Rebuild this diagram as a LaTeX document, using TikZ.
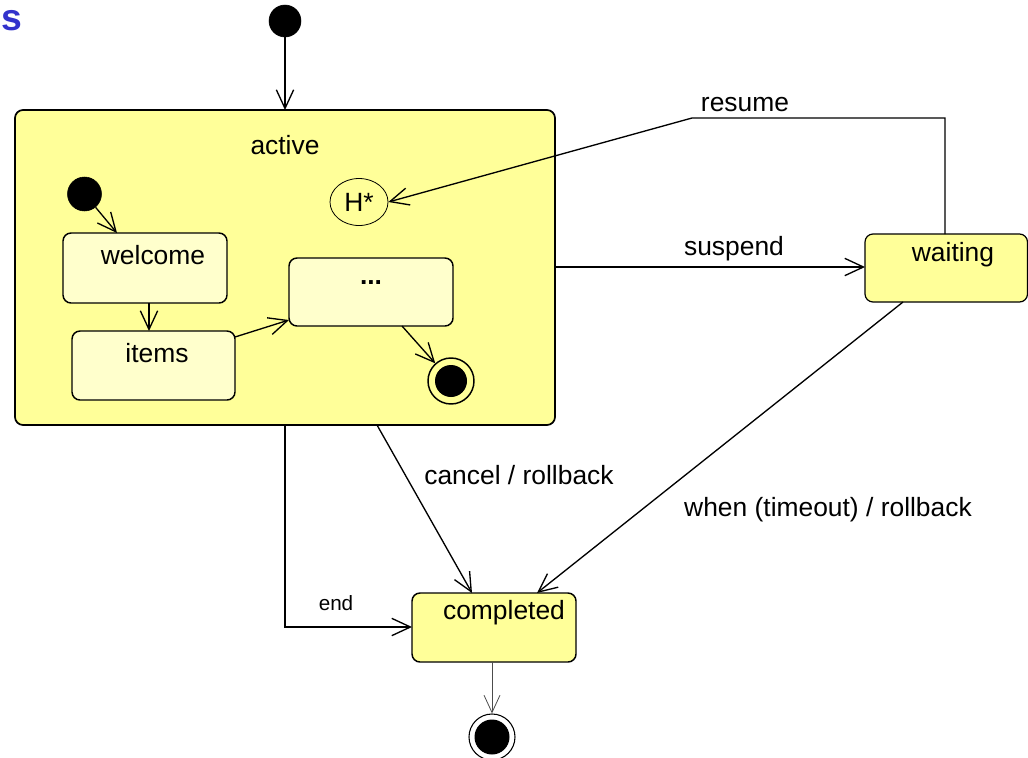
\documentclass[tikz,border=0pt]{standalone}
\usepackage{fontspec}
\setmainfont{Liberation Sans}
\usetikzlibrary{arrows.meta,shapes.geometric}
\definecolor{outerY}{RGB}{255,255,153}
\definecolor{innerY}{RGB}{255,255,204}
\definecolor{titleblue}{RGB}{51,51,204}
\begin{document}
\begin{tikzpicture}[x=0.75pt,y=-0.75pt,
  txt/.style={font=\fontsize{19.8}{23}\selectfont, inner sep=0pt},
  smalltxt/.style={font=\fontsize{15.5}{18}\selectfont, inner sep=0pt},
  outerstate/.style={draw, line width=1.3pt, fill=outerY, rounded corners=6pt},
  innerstate/.style={draw, line width=1.1pt, fill=innerY, rounded corners=6pt},
  startdot/.style={circle, fill=black, draw=black, inner sep=0pt},
  trans/.style={draw, line width=1pt, -{Straight Barb[length=14pt,width=13pt,line width=1pt]}},
  thintrans/.style={draw=black!70, line width=0.6pt, -{Straight Barb[length=13pt,width=12pt,line width=0.6pt]}}
]
\useasboundingbox (0,0) rectangle (1028,757);

% title fragment
\node[anchor=base west, inner sep=0pt, text=titleblue, font=\fontsize{28}{30}\bfseries\selectfont] (title) at (1,30) {s};

% top initial state
\node[startdot, minimum size=32*0.75pt] (init) at (285,21) {};

% active composite state
\path[outerstate] (15,110) rectangle (555,425);
\coordinate (activeTop) at (285,110);
\coordinate (activeRight) at (555,267);
\coordinate (activeBotL) at (285,425);
\coordinate (activeBotM) at (377,425);
\node[txt] (activeLbl) at (285,145) {active};

% inner initial
\node[startdot, minimum size=34*0.75pt] (init2) at (84.5,194) {};

% inner states
\path[innerstate] (63,233) rectangle (227,303);
\node[txt] (welcomeLbl) at (153,255) {welcome};
\coordinate (welTop) at (117,233);
\coordinate (welBot) at (149,303);

\path[innerstate] (72,331) rectangle (235,400);
\node[txt] (itemsLbl) at (157,353) {items};
\coordinate (itemsTop) at (149,331);
\coordinate (itemsRight) at (235,337);

\path[innerstate] (289,258) rectangle (453,326);
\node[txt, font=\fontsize{19.8}{23}\selectfont\bfseries] (dotsLbl) at (371,283) {...};
\coordinate (dotsLeft) at (289,320);
\coordinate (dotsBot) at (402,326);

% inner final
\node[circle, draw, line width=1.1pt, minimum size=46*0.75pt, inner sep=0pt] (fin1) at (451,381) {};
\node[circle, fill=black, minimum size=32*0.75pt, inner sep=0pt] (fin1in) at (451,381) {};

% history
\node[ellipse, draw, line width=0.6pt, minimum width=58*0.75pt, minimum height=47*0.75pt, inner sep=0pt, txt] (hist) at (359,202) {H*};

% waiting
\path[outerstate, line width=0.9pt] (865,234) rectangle (1027.5,302);
\node[txt] (waitLbl) at (953,255) {waiting};
\coordinate (waitTop) at (945,234);
\coordinate (waitLeft) at (865,267);
\coordinate (waitBot) at (903,302);
\coordinate (resR) at (945,118);
\coordinate (resL) at (692,118);

% completed
\path[outerstate, line width=1.1pt] (412,593) rectangle (576,662);
\node[txt] (compLbl) at (504,613) {completed};
\coordinate (compLeft) at (412,627);
\coordinate (compTopL) at (472,593);
\coordinate (compTopR) at (537,593);
\coordinate (compBot) at (492,662);
\coordinate (endCorner) at (285,627);

% final bottom
\node[circle, draw, line width=0.8pt, minimum size=46*0.75pt, inner sep=0pt] (fin2) at (492,737) {};
\node[circle, fill=black, minimum size=35*0.75pt, inner sep=0pt] (fin2in) at (492,737) {};

% transitions
\path[trans] (init) -- (activeTop);
\path[trans] (init2) -- (welTop);
\path[trans] (welBot) -- (itemsTop);
\path[trans] (itemsRight) -- (dotsLeft);
\path[trans] (dotsBot) -- (fin1);
\path[trans] (activeRight) -- (waitLeft);
\path[trans] (waitTop) -- (resR) -- (resL) -- (hist.east);
\path[trans] (activeBotL) -- (endCorner) -- (compLeft);
\path[trans] (activeBotM) -- (compTopL);
\path[trans] (waitBot) -- (compTopR);
\path[thintrans] (compBot) -- (fin2);

% labels
\node[txt] (resumeLbl) at (745,105) {resume};
\node[txt] (suspendLbl) at (734,249) {suspend};
\node[txt] (cancelLbl) at (519,475) {cancel / rollback};
\node[txt] (timeoutLbl) at (828,510) {when (timeout) / rollback};
\node[smalltxt] (endLbl) at (336,603) {end};
\end{tikzpicture}
\end{document}
